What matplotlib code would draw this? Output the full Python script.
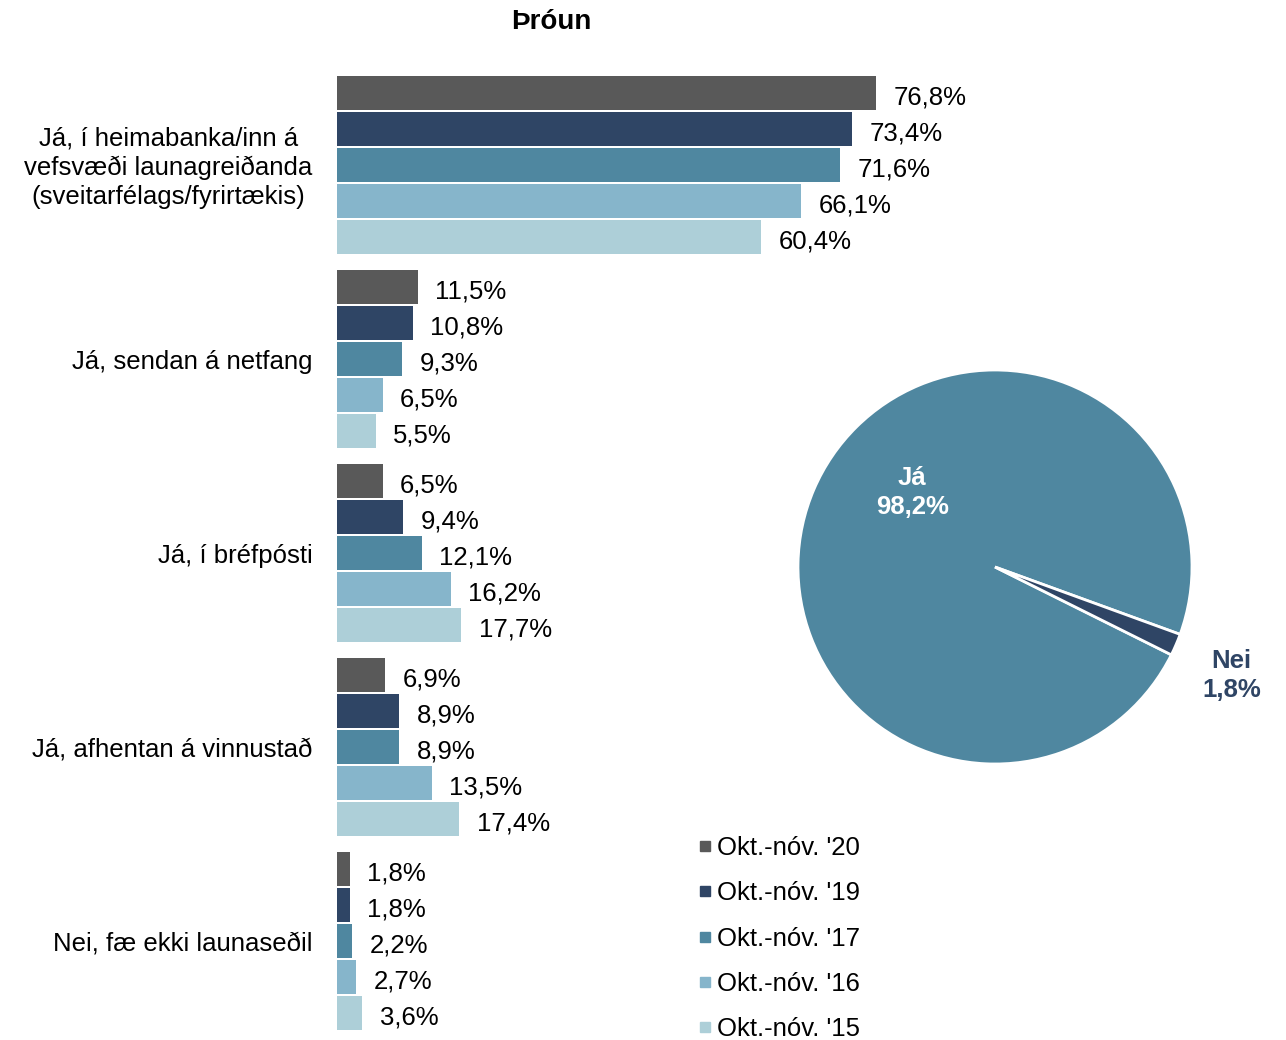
import matplotlib.pyplot as plt
from matplotlib.lines import Line2D

plt.rcParams['font.family'] = ['Liberation Sans', 'DejaVu Sans']

# gögn
categories = ["Já, í heimabanka/inn á\nvefsvæði launagreiðanda\n(sveitarfélags/fyrirtækis)",
              "Já, sendan á netfang",
              "Já, í bréfpósti",
              "Já, afhentan á vinnustað",
              "Nei, fæ ekki launaseðil"]
series = ["Okt.-nóv. '20", "Okt.-nóv. '19", "Okt.-nóv. '17", "Okt.-nóv. '16", "Okt.-nóv. '15"]
v20 = [76.8, 11.5, 6.5, 6.9, 1.8]
v19 = [73.4, 10.8, 9.4, 8.9, 1.8]
v17 = [71.6, 9.3, 12.1, 8.9, 2.2]
v16 = [66.1, 6.5, 16.2, 13.5, 2.7]
v15 = [60.4, 5.5, 17.7, 17.4, 3.6]
pie_labels = ["Já", "Nei"]
pie_values = [98.2, 1.8]

colors = ["#595959", "#2F4565", "#4F87A0", "#86B5CB", "#ADCFD8"]
W, H = 1286, 1040
fs = 18.5

fig = plt.figure(figsize=(W / 100, H / 100), dpi=100)

# súlurit
group_step = 194 / 36
ax = fig.add_axes([337 / W, 1 - 1031 / H, 702 / W, 956 / H])
for i, vals in enumerate([v20, v19, v17, v16, v15]):
    ys = [g * group_step + i for g in range(len(categories))]
    ax.barh(ys, vals, height=0.92, color=colors[i], label=series[i])
    for y, v in zip(ys, vals):
        ax.text(v + 2.5, y + 0.13, f"{v:.1f}%".replace(".", ","), va="center", ha="left", fontsize=fs)
ax.set_xlim(0, 100)
ax.set_ylim(4 * group_step + 4.5, -0.5)
ax.axis("off")
for g, cat in enumerate(categories):
    ax.text(-3.5, g * group_step + 2.08, cat, ha="right", va="center", fontsize=fs,
            multialignment="center", linespacing=1.27)

# kaka
pax = fig.add_axes([798 / W, 1 - 764 / H, 394 / W, 394 / H])
pax.pie(pie_values, colors=[colors[2], colors[1]], startangle=-20,
        wedgeprops=dict(edgecolor="white", linewidth=2))
pax.set_xlim(-1, 1)
pax.set_ylim(-1, 1)
pax.text(-0.42, 0.38, f"{pie_labels[0]}\n{pie_values[0]:.1f}%".replace(".", ","), color="white",
         fontweight="bold", ha="center", va="center", fontsize=fs, linespacing=1.27)
pax.text(1.20, -0.55, f"{pie_labels[1]}\n{pie_values[1]:.1f}%".replace(".", ","), color=colors[1],
         fontweight="bold", ha="center", va="center", fontsize=fs, linespacing=1.27)

handles = [Line2D([], [], marker="s", linestyle="none", markersize=7, color=c) for c in colors]
fig.legend(handles, series, loc="upper left", bbox_to_anchor=(681 / W, 1 - 823 / H), frameon=False,
           fontsize=fs, labelspacing=0.83, handletextpad=0.0, handlelength=0.9, borderpad=0)

fig.text(551 / W, 1 - 22 / H, "Þróun", ha="center", va="center", fontsize=20, fontweight="bold")

fig.savefig("out.png", dpi=100)
